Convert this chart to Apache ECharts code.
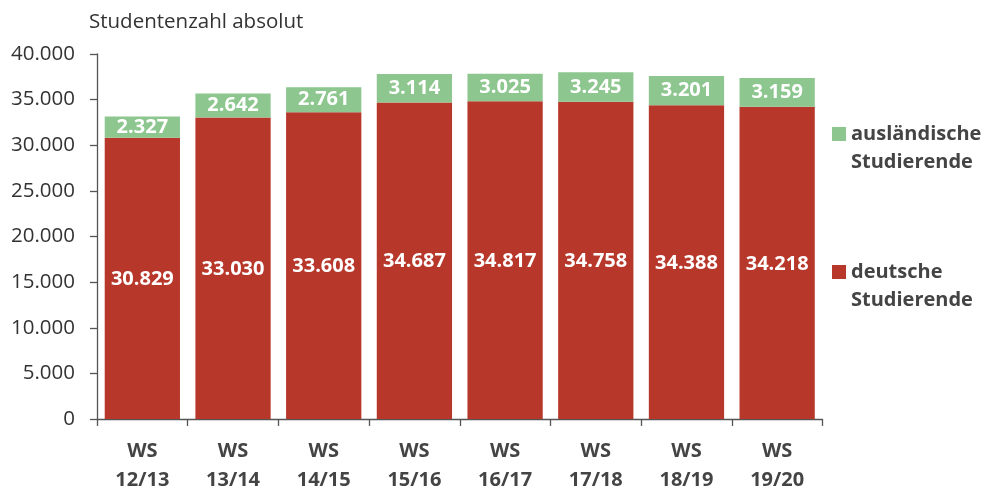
<!DOCTYPE html>
<html>
<head>
<meta charset="utf-8">
<script src="https://cdn.jsdelivr.net/npm/echarts@6/dist/echarts.min.js"></script>
<style>html,body{margin:0;padding:0;background:#fff}#c{width:986px;height:490px}</style>
</head>
<body>
<div id="c"></div>
<script>
const categories = ['WS\n12/13','WS\n13/14','WS\n14/15','WS\n15/16','WS\n16/17','WS\n17/18','WS\n18/19','WS\n19/20'];
const deutsche = [30829, 33030, 33608, 34687, 34817, 34758, 34388, 34218];
const auslaendische = [2327, 2642, 2761, 3114, 3025, 3245, 3201, 3159];
const yTicks = [0, 5000, 10000, 15000, 20000, 25000, 30000, 35000, 40000];

function fmt(v){
  const s = String(Math.round(v));
  return s.replace(/\B(?=(\d{3})+(?!\d))/g, '.');
}
const FONT = '"Open Sans", "Noto Sans", sans-serif';
const chart = echarts.init(document.getElementById('c'), null, {renderer:'canvas'});
chart.setOption({
  animation: false,
  textStyle: {fontFamily: FONT},
  title: {
    text: 'Studentenzahl absolut', left: 84, top: 7,
    textStyle: {fontFamily: FONT, fontSize: 20.5, fontWeight: 'normal', color: '#333'}
  },
  grid: {left: 97, right: 163.5, top: 54, bottom: 71, containLabel: false, outerBoundsMode: 'none'},
  legend: {
    orient: 'vertical', left: 832, top: 92, padding: 0,
    itemWidth: 14, itemHeight: 14, itemGap: 54,
    icon: 'rect',
    data: ['ausländische Studierende', 'deutsche Studierende'],
    formatter: function(n){ return '\n' + n.replace(' ', '\n'); },
    textStyle: {fontFamily: FONT, fontSize: 20, fontWeight: 'bold', color: '#444', lineHeight: 28}
  },
  xAxis: {
    type: 'category', data: categories,
    axisLine: {lineStyle: {color: '#555', width: 1.3}},
    axisTick: {show: true, length: 7, alignWithLabel: false, lineStyle: {color: '#555', width: 1.3}},
    axisLabel: {fontFamily: FONT, fontSize: 20, fontWeight: 'bold', color: '#444', lineHeight: 29, margin: 18, interval: 0}
  },
  yAxis: {
    type: 'value', min: yTicks[0], max: yTicks[yTicks.length-1], interval: 5000,
    splitLine: {show: false},
    axisLine: {show: true, lineStyle: {color: '#555', width: 1.3}},
    axisTick: {show: true, length: 7, lineStyle: {color: '#555', width: 1.3}},
    axisLabel: {fontFamily: FONT, fontSize: 20.5, color: '#333', margin: 22, formatter: fmt}
  },
  series: [
    {
      name: 'deutsche Studierende', type: 'bar', stack: 'a', data: deutsche,
      barCategoryGap: '17%',
      itemStyle: {color: '#B8372B'},
      label: {show: true, position: 'inside', offset: [0, 1], color: '#fff', fontFamily: FONT, fontSize: 20, fontWeight: 'bold', formatter: p => fmt(p.value)}
    },
    {
      name: 'ausländische Studierende', type: 'bar', stack: 'a', data: auslaendische,
      barCategoryGap: '17%',
      itemStyle: {color: '#8DC78F'},
      label: {show: true, position: 'inside', color: '#fff', fontFamily: FONT, fontSize: 20, fontWeight: 'bold', formatter: p => fmt(p.value)}
    }
  ]
});
</script>
</body>
</html>
